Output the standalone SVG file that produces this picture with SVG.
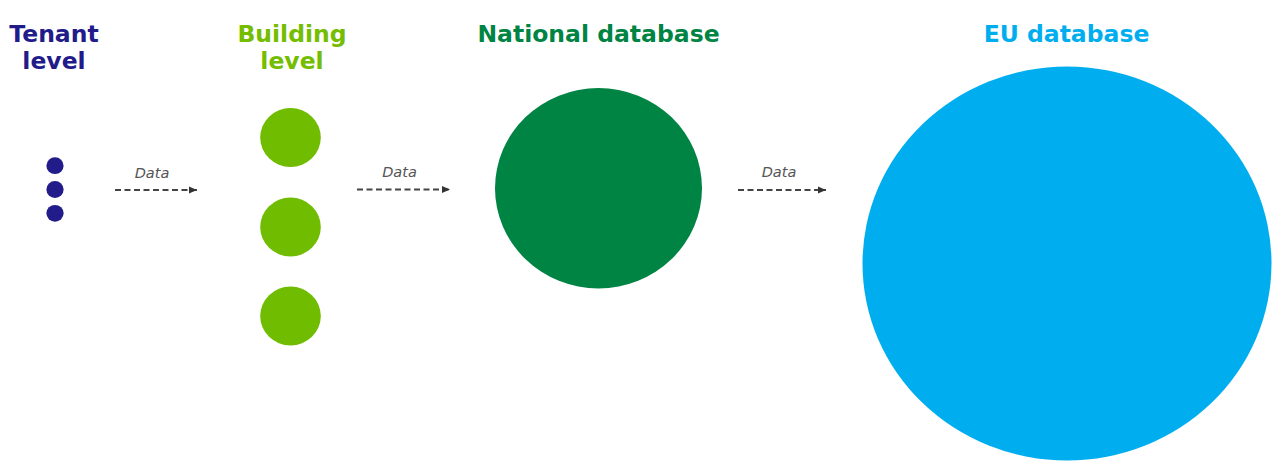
<svg xmlns="http://www.w3.org/2000/svg" width="1280" height="469" viewBox="0 0 1280 469">
<style>
.title{font-family:"DejaVu Sans","Verdana",sans-serif;font-weight:bold;font-size:23.5px;text-anchor:middle}
.lbl{font-family:"DejaVu Sans",sans-serif;font-style:italic;font-size:14.5px;fill:#555;text-anchor:middle}
.conn{stroke:#444;stroke-width:1.8;stroke-dasharray:6 3.5;fill:none}
</style>
<defs>
<marker id="ah" markerUnits="userSpaceOnUse" markerWidth="9" markerHeight="8" refX="8" refY="4" orient="auto">
<path d="M0,0.5 L8,4 L0,7.5 Z" fill="#333"/>
</marker>
</defs>
<rect width="1280" height="469" fill="#fff"/>
<g id="tenant">
<text class="title" fill="#221c8b" x="54" y="41.5">Tenant</text>
<text class="title" fill="#221c8b" x="54" y="68.5">level</text>
<ellipse cx="55" cy="165.7" rx="8.6" ry="8.4" fill="#221c8b"/>
<ellipse cx="55" cy="189.5" rx="8.6" ry="8.4" fill="#221c8b"/>
<ellipse cx="55" cy="213.3" rx="8.6" ry="8.4" fill="#221c8b"/>
</g>
<g id="building">
<text class="title" fill="#74bd00" x="292" y="41.5">Building</text>
<text class="title" fill="#74bd00" x="292" y="68.5">level</text>
<ellipse cx="290.5" cy="137.5" rx="30.3" ry="29.5" fill="#70bc00"/>
<ellipse cx="290.5" cy="227" rx="30.3" ry="29.5" fill="#70bc00"/>
<ellipse cx="290.5" cy="316" rx="30.3" ry="29.5" fill="#70bc00"/>
</g>
<g id="national">
<text class="title" fill="#008444" x="598.5" y="42">National database</text>
<ellipse cx="598.5" cy="188.2" rx="103.5" ry="100.2" fill="#008444"/>
</g>
<g id="eu">
<text class="title" fill="#00aeef" x="1066.5" y="42">EU database</text>
<ellipse cx="1067" cy="263.5" rx="204.5" ry="197" fill="#00aeef"/>
</g>
<g id="connectors">
<line class="conn" x1="115" y1="190" x2="197" y2="190" marker-end="url(#ah)"/>
<text class="lbl" x="152" y="177.5">Data</text>
<line class="conn" x1="357" y1="189.5" x2="450" y2="189.5" marker-end="url(#ah)"/>
<text class="lbl" x="399.5" y="177">Data</text>
<line class="conn" x1="738" y1="190" x2="826" y2="190" marker-end="url(#ah)"/>
<text class="lbl" x="779" y="177">Data</text>
</g>
</svg>
